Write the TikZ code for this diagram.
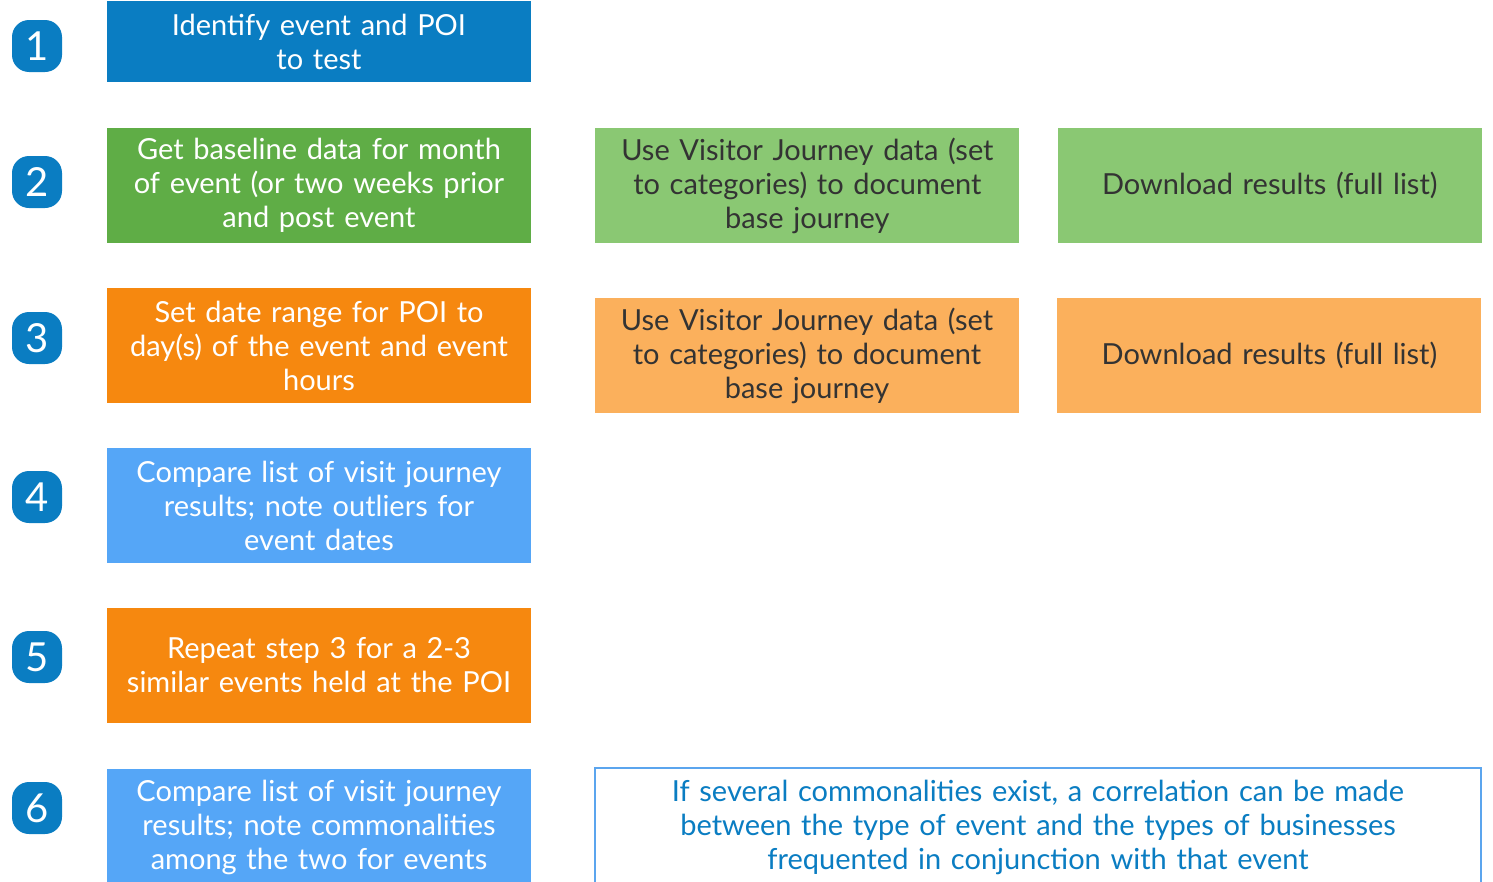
\documentclass[tikz,border=0pt]{standalone}
\usepackage{fontspec}
\setmainfont{Lato}
\usetikzlibrary{positioning}
\definecolor{badgeblue}{HTML}{0A7DC2}
\definecolor{darkgreen}{HTML}{5FAD46}
\definecolor{lightgreen}{HTML}{8AC873}
\definecolor{darkorange}{HTML}{F6880F}
\definecolor{lightorange}{HTML}{FBB05C}
\definecolor{lightblue}{HTML}{55A6F7}
\definecolor{framblue}{HTML}{5BA5EE}
\definecolor{darktext}{HTML}{333333}

\begin{document}
\begin{tikzpicture}[x=1pt, y=-1pt, every node/.style={font=\fontsize{29}{34}\selectfont, align=center},
  stepbox/.style={rectangle, minimum width=424pt, minimum height=115pt, inner sep=0pt, text width=418pt},
  badge/.style={rectangle, rounded corners=17pt, fill=badgeblue, text=white, minimum width=50pt, minimum height=52pt, inner sep=0pt, font=\fontsize{40}{40}\selectfont}]
\useasboundingbox (0,0) rectangle (1493,881);
\clip (0,0) rectangle (1493,881);

% Step badges
\node (b1) at (37,46) [badge] {1};
\node (b2) at (37,182) [badge] {2};
\node (b3) at (37,338) [badge] {3};
\node (b4) at (37,497) [badge] {4};
\node (b5) at (37,657) [badge] {5};
\node (b6) at (37,808) [badge] {6};

% Main column
\node (s1) at (319,41.5) [stepbox, minimum height=81pt, fill=badgeblue, text=white] {Identify event and POI\\to test};
\node (s2) at (319,185.5) [stepbox, fill=darkgreen, text=white] {Get baseline data for month\\of event (or two weeks prior\\and post event};
\node (s3) at (319,345.5) [stepbox, fill=darkorange, text=white] {Set date range for POI to\\day(s) of the event and event\\hours};
\node (s4) at (319,505.5) [stepbox, fill=lightblue, text=white] {Compare list of visit journey\\results; note outliers for\\event dates};
\node (s5) at (319,665.5) [stepbox, fill=darkorange, text=white] {Repeat step 3 for a 2-3\\similar events held at the POI};
\node (s6) at (319,827) [stepbox, minimum height=116pt, fill=lightblue, text=white] {Compare list of visit journey\\results; note commonalities\\among the two for events};

% Side columns
\node (s2a) [stepbox, right=64pt of s2, fill=lightgreen, text=darktext] {Use Visitor Journey data (set\\to categories) to document\\base journey};
\node (s2b) [stepbox, right=38pt of s2a, fill=lightgreen, text=darktext] {Download results (full list)};
\node (s3a) at (807,355.5) [stepbox, fill=lightorange, text=darktext] {Use Visitor Journey data (set\\to categories) to document\\base journey};
\node (s3b) [stepbox, right=38pt of s3a, fill=lightorange, text=darktext] {Download results (full list)};

% Conclusion
\node (note) at (1038,827) [stepbox, minimum width=886pt, minimum height=118pt, text width=870pt, draw=framblue, line width=2pt, fill=white, text=badgeblue] {If several commonalities exist, a correlation can be made\\between the type of event and the types of businesses\\frequented in conjunction with that event};

\end{tikzpicture}
\end{document}
